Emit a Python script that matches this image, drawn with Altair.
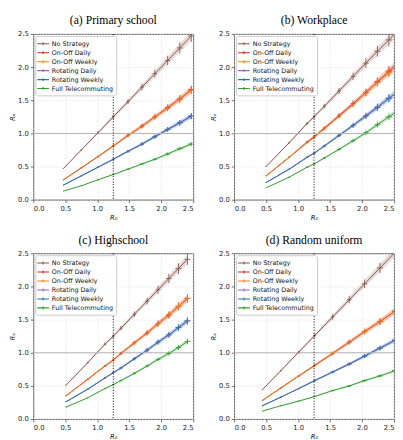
import altair as alt
import pandas as pd

SERIES = ["No Strategy", "On-Off Daily", "On-Off Weekly",
          "Rotating Daily", "Rotating Weekly", "Full Telecommuting"]
COLORS = ["#8c564b", "#d62728", "#ff7f0e", "#9467bd", "#1f77b4", "#2ca02c"]
TITLES = ["(a) Primary school", "(b) Workplace", "(c) Highschool", "(d) Random uniform"]
TICKS = [0.0, 0.5, 1.0, 1.5, 2.0, 2.5]
REF_R0 = 1.25
REF_RE = 1.0

# (a) Primary school
a_r0 = [0.47, 0.75, 1.01, 1.25, 1.48, 1.70, 1.90, 2.10, 2.29, 2.47]
a_none = [0.47, 0.75, 1.01, 1.25, 1.48, 1.70, 1.90, 2.10, 2.29, 2.47]
a_ood = [0.30, 0.48, 0.65, 0.81, 0.97, 1.11, 1.25, 1.39, 1.52, 1.66]
a_oow = [0.30, 0.48, 0.65, 0.81, 0.97, 1.11, 1.25, 1.38, 1.52, 1.65]
a_rod = [0.22, 0.36, 0.49, 0.61, 0.73, 0.84, 0.95, 1.06, 1.16, 1.26]
a_row = [0.22, 0.36, 0.49, 0.61, 0.73, 0.84, 0.95, 1.06, 1.16, 1.26]
a_full = [0.13, 0.21, 0.30, 0.38, 0.46, 0.54, 0.61, 0.69, 0.77, 0.84]
a_xerr = [0.004, 0.008, 0.012, 0.018, 0.024, 0.030, 0.036, 0.040, 0.045, 0.050]
a_yrel = [0.010, 0.015, 0.020, 0.024, 0.027, 0.030, 0.032, 0.034, 0.036, 0.036]

# (b) Workplace
b_r0 = [0.50, 0.86, 1.14, 1.25, 1.41, 1.64, 1.86, 2.06, 2.24, 2.42, 2.60]
b_none = [0.50, 0.86, 1.15, 1.25, 1.41, 1.64, 1.86, 2.06, 2.24, 2.41, 2.60]
b_ood = [0.36, 0.64, 0.87, 0.95, 1.08, 1.27, 1.45, 1.62, 1.78, 1.94, 2.10]
b_oow = [0.36, 0.64, 0.86, 0.94, 1.07, 1.26, 1.44, 1.61, 1.77, 1.92, 2.08]
b_rod = [0.26, 0.46, 0.64, 0.70, 0.81, 0.97, 1.12, 1.27, 1.40, 1.53, 1.67]
b_row = [0.26, 0.46, 0.64, 0.70, 0.81, 0.97, 1.12, 1.26, 1.39, 1.53, 1.66]
b_full = [0.18, 0.34, 0.49, 0.54, 0.63, 0.76, 0.89, 1.01, 1.13, 1.25, 1.37]
b_xerr = [0.005, 0.011, 0.017, 0.020, 0.024, 0.030, 0.035, 0.040, 0.045, 0.050, 0.055]
b_yrel = [0.010, 0.015, 0.020, 0.022, 0.024, 0.028, 0.031, 0.034, 0.036, 0.038, 0.038]

# (c) Highschool
c_r0 = [0.51, 0.85, 1.12, 1.25, 1.37, 1.58, 1.78, 1.95, 2.12, 2.27, 2.41]
c_none = [0.51, 0.85, 1.13, 1.25, 1.37, 1.58, 1.78, 1.95, 2.12, 2.27, 2.41]
c_ood = [0.35, 0.60, 0.80, 0.89, 0.99, 1.15, 1.30, 1.44, 1.57, 1.70, 1.82]
c_oow = [0.35, 0.60, 0.80, 0.89, 0.99, 1.15, 1.30, 1.44, 1.57, 1.70, 1.82]
c_rod = [0.26, 0.45, 0.62, 0.70, 0.77, 0.91, 1.04, 1.16, 1.27, 1.38, 1.48]
c_row = [0.26, 0.45, 0.62, 0.70, 0.77, 0.91, 1.04, 1.16, 1.27, 1.38, 1.48]
c_full = [0.18, 0.32, 0.46, 0.52, 0.58, 0.69, 0.80, 0.90, 0.99, 1.08, 1.17]
c_xerr = [0.005, 0.011, 0.016, 0.019, 0.022, 0.027, 0.032, 0.036, 0.040, 0.044, 0.046]
c_yrel = [0.010, 0.015, 0.020, 0.022, 0.024, 0.027, 0.029, 0.031, 0.033, 0.035, 0.035]

# (d) Random uniform
d_r0 = [0.44, 0.73, 1.01, 1.26, 1.54, 1.80, 2.04, 2.28, 2.52]
d_none = [0.44, 0.73, 1.01, 1.26, 1.54, 1.80, 2.04, 2.28, 2.52]
d_ood = [0.28, 0.47, 0.65, 0.81, 0.99, 1.16, 1.32, 1.47, 1.63]
d_oow = [0.28, 0.47, 0.65, 0.81, 0.99, 1.16, 1.32, 1.47, 1.63]
d_rod = [0.20, 0.33, 0.46, 0.58, 0.71, 0.83, 0.95, 1.07, 1.19]
d_row = [0.20, 0.33, 0.46, 0.58, 0.71, 0.83, 0.95, 1.07, 1.19]
d_full = [0.12, 0.20, 0.27, 0.34, 0.43, 0.50, 0.58, 0.65, 0.73]
d_xerr = [0.004, 0.009, 0.014, 0.021, 0.028, 0.035, 0.041, 0.047, 0.052]
d_yrel = [0.010, 0.015, 0.020, 0.024, 0.027, 0.030, 0.032, 0.034, 0.036]

W, H = 164, 170
SERIF = "Liberation Serif"


def panel(title, r0, series_vals, xerr, yrel):
    rows = []
    for k, (name, vals) in enumerate(zip(SERIES, series_vals)):
        for i, (x, y) in enumerate(zip(r0, vals)):
            ye = y * yrel[i]
            rows.append(dict(series=name, k=k, x=x, y=y,
                             xlo=x - xerr[i], xhi=x + xerr[i],
                             ylo=y - ye, yhi=y + ye,
                             blo=y - 0.8 * ye, bhi=y + 0.8 * ye))
    df = pd.DataFrame(rows)
    xs = alt.Scale(domain=[0, 2.5], nice=False)
    ys = alt.Scale(domain=[0, 2.5], nice=False)
    legend = alt.Legend(
        title=None, orient="top-left", offset=2,
        fillColor="white", strokeColor="#cccccc", cornerRadius=2,
        padding=3, labelFontSize=6.5, labelFont="DejaVu Sans",
        labelColor="#111", rowPadding=0.2,
        symbolType="M-1.5,0L1.5,0M0,-0.38L0,0.38", symbolSize=64,
        symbolStrokeWidth=1.1, symbolFillColor="transparent",
        symbolOpacity=1, labelOffset=4,
    )
    color = alt.Color("series:N", scale=alt.Scale(domain=SERIES, range=COLORS),
                      legend=legend)
    xaxis = alt.Axis(title="R₀", values=TICKS, format=".1f")
    yaxis = alt.Axis(title="Rₑ", values=TICKS, format=".1f")
    base = alt.Chart(df)

    hline = alt.Chart(pd.DataFrame({"v": [REF_RE]})).mark_rule(
        color="#b5b5b5", strokeWidth=1.1
    ).encode(y=alt.Y("v:Q", scale=ys, axis=yaxis))
    vline = alt.Chart(pd.DataFrame({"v": [REF_R0]})).mark_rule(
        color="#000", strokeWidth=0.9, strokeDash=[1.2, 1.6]
    ).encode(x=alt.X("v:Q", scale=xs, axis=xaxis))

    band = base.mark_area(opacity=0.2, clip=True).encode(
        x=alt.X("x:Q", scale=xs, axis=xaxis),
        y=alt.Y("blo:Q", scale=ys, axis=yaxis),
        y2="bhi:Q",
        color=color,
        detail="series:N",
    )
    line = base.mark_line(strokeWidth=1, clip=True).encode(
        x=alt.X("x:Q", scale=xs, axis=xaxis),
        y=alt.Y("y:Q", scale=ys, axis=yaxis),
        color=color,
        order="x:Q",
    )
    ex = base.mark_rule(strokeWidth=0.9, clip=True).encode(
        x=alt.X("xlo:Q", scale=xs, axis=xaxis), x2="xhi:Q",
        y=alt.Y("y:Q", scale=ys, axis=yaxis),
        color=color,
    )
    ey = base.mark_rule(strokeWidth=0.9, clip=True).encode(
        x=alt.X("x:Q", scale=xs, axis=xaxis),
        y=alt.Y("ylo:Q", scale=ys, axis=yaxis), y2="yhi:Q",
        color=color,
    )
    return alt.layer(line, band, hline, ex, ey, vline).properties(
        width=W, height=H,
        title=alt.TitleParams(title, font=SERIF, fontSize=12,
                              fontWeight="normal", offset=3, color="#000"),
    )


pa = panel(TITLES[0], a_r0, [a_none, a_ood, a_oow, a_rod, a_row, a_full], a_xerr, a_yrel)
pb = panel(TITLES[1], b_r0, [b_none, b_ood, b_oow, b_rod, b_row, b_full], b_xerr, b_yrel)
pc = panel(TITLES[2], c_r0, [c_none, c_ood, c_oow, c_rod, c_row, c_full], c_xerr, c_yrel)
pd_ = panel(TITLES[3], d_r0, [d_none, d_ood, d_oow, d_rod, d_row, d_full], d_xerr, d_yrel)

top = alt.hconcat(pa, pb, spacing=15).resolve_scale(color="independent")
bottom = alt.hconcat(pc, pd_, spacing=15).resolve_scale(color="independent")
chart = alt.vconcat(top, bottom, spacing=12).resolve_scale(
    color="independent"
).configure(
    padding={"left": 0, "top": 0, "right": 0, "bottom": 0},
    background="white",
).configure_title(
    font=SERIF, fontSize=12, fontWeight="normal", offset=3, color="#000",
).configure_view(
    stroke="#444", strokeWidth=0.9
).configure_axis(
    domain=False, grid=True, gridColor="#dddddd", gridDash=[1.5, 1.5],
    gridWidth=0.7, labelFontSize=7, labelFont="DejaVu Sans", labelColor="#222",
    tickColor="#333", tickSize=3, tickWidth=0.7, titleFont="DejaVu Sans",
    titleFontSize=7, titleFontStyle="italic", titleFontWeight="normal",
    titleColor="#111", labelPadding=2, titlePadding=2,
)

chart.save("out.html", embed_options={"renderer": "svg", "actions": False})
